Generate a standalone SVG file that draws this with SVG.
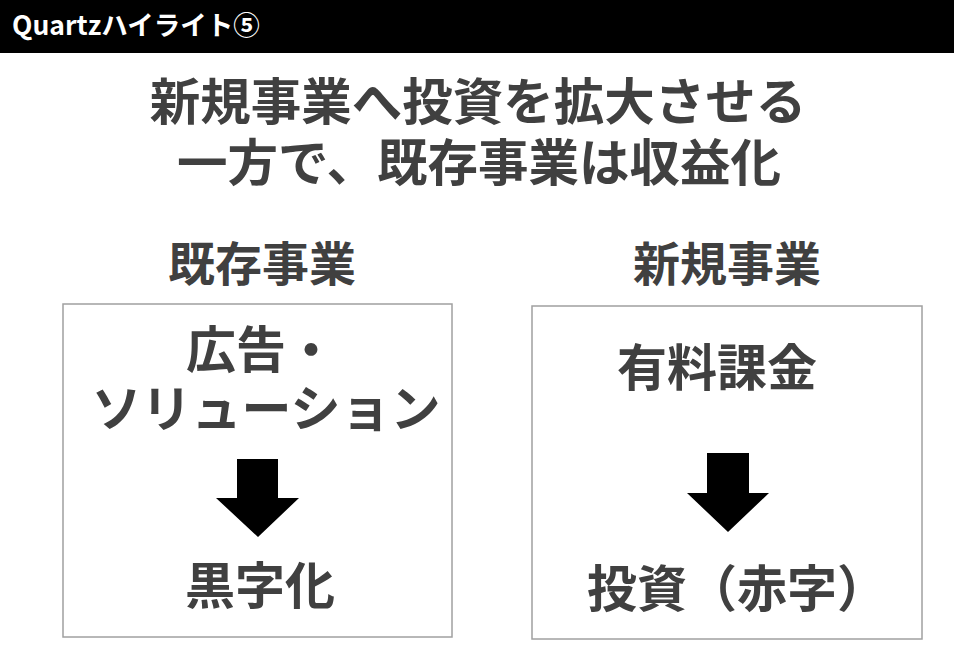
<svg xmlns="http://www.w3.org/2000/svg" width="954" height="656" viewBox="0 0 954 656">
<style>
.t{font-family:"Noto Sans CJK JP","Noto Sans",sans-serif;font-weight:bold;fill:#404040;text-anchor:middle}
.box{fill:#fff;stroke:#a0a0a0;stroke-width:1.5}
.arr{fill:#000}
</style>
<rect width="954" height="656" fill="#fff"/>
<g id="header">
<rect x="0" y="0" width="954" height="53" fill="#000"/>
<text x="12" y="35" font-family="'Noto Sans CJK JP','Noto Sans',sans-serif" font-weight="bold" font-size="26.5" fill="#fff">Quartzハイライト⑤</text>
</g>
<g id="title">
<text class="t" x="478" y="120" font-size="50.5">新規事業へ投資を拡大させる</text>
<text class="t" x="479" y="181" font-size="50.5">一方で、既存事業は収益化</text>
</g>
<g id="existing">
<text class="t" x="262" y="281" font-size="47">既存事業</text>
<rect class="box" x="63" y="304" width="389" height="333"/>
<text class="t" x="261" y="368" font-size="50">広告・</text>
<text class="t" x="266" y="427" font-size="50">ソリューション</text>
<text class="t" x="260" y="604" font-size="50">黒字化</text>
</g>
<g id="new">
<text class="t" x="727" y="281" font-size="47">新規事業</text>
<rect class="box" x="532" y="306" width="390" height="333"/>
<text class="t" x="717" y="386" font-size="50">有料課金</text>
<text class="t" x="737" y="607" font-size="50">投資（赤字）</text>
</g>
<g id="connectors">
<polygon class="arr" points="237,459 278,459 278,498 299,498 258,537 216,498 237,498"/>
<polygon class="arr" points="707,453 749,453 749,493 769,493 728,532 687,493 707,493"/>
</g>
</svg>
